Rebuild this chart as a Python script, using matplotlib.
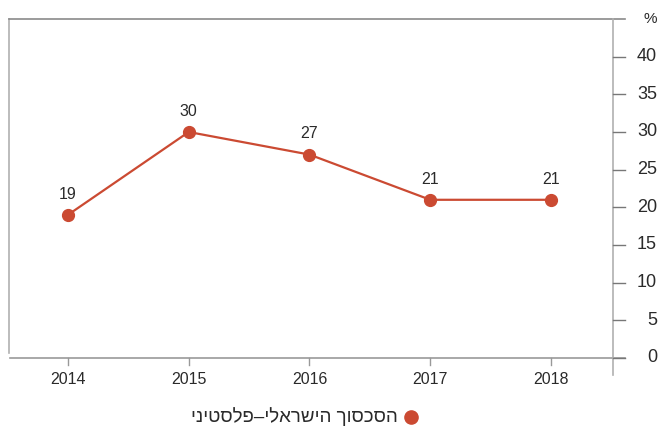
import matplotlib.pyplot as plt
import matplotlib.transforms as mtransforms

plt.rcParams['font.family'] = ['Liberation Sans', 'DejaVu Sans']

years = [2014, 2015, 2016, 2017, 2018]
values = [19, 30, 27, 21, 21]
yticks = [0, 5, 10, 15, 20, 25, 30, 35, 40]
series_name = 'הסכסוך הישראלי–פלסטיני'

line_color = '#cb4a32'
text_color = '#2a2a2a'
axis_color = '#b0b0b0'

fig = plt.figure(figsize=(6.58, 4.28), dpi=100)
ax = fig.add_axes([0.0144, 0.1636, 0.9172, 0.792])
ax.set_xlim(2013.516, 2018.513)
ax.set_ylim(0, 45)

for s in ax.spines.values():
    s.set_visible(False)
ax.set_yticks([])
ax.set_xticks([])

# frame lines (in axes coords, allowed to overhang)
ext = 12 / (0.9172 * 658)
ax.plot([0, 0], [0.015, 1], color=axis_color, lw=1.2, transform=ax.transAxes, clip_on=False)
ax.plot([0, 1 + ext], [1, 1], color='#8a8a8a', lw=1.2, transform=ax.transAxes, clip_on=False)
ax.plot([0.001, 1 + ext], [0, 0], color='#9a9a9a', lw=1.2, transform=ax.transAxes, clip_on=False)
ax.plot([1, 1], [-17 / (0.792 * 428), 1], color=axis_color, lw=1.2, transform=ax.transAxes, clip_on=False)

# y ticks and labels on the right
ytrans = mtransforms.blended_transform_factory(ax.transAxes, ax.transData)
for v in yticks:
    ax.plot([1, 1 + ext], [v, v], color='#777777', lw=1.0, transform=ytrans, clip_on=False)
    ax.text(1 + 44 / (0.9172 * 658), v, str(v), transform=ytrans, ha='right', va='center',
            fontsize=13, color=text_color)
ax.text(1 + 44 / (0.9172 * 658), 45, '%', transform=ytrans, ha='right', va='center',
        fontsize=11, color=text_color)

# x ticks and labels
xtrans = mtransforms.blended_transform_factory(ax.transData, ax.transAxes)
tick_len = 7 / (0.792 * 428)
for yr in years:
    ax.plot([yr, yr], [0, -tick_len], color='#999999', lw=1.0, transform=xtrans, clip_on=False)
    ax.text(yr, -22 / (0.792 * 428), str(yr), transform=xtrans, ha='center', va='center',
            fontsize=11.5, color=text_color)

ax.plot(years, values, color=line_color, lw=1.6, marker='o', markersize=8.5,
        clip_on=False, zorder=3)
for x, v in zip(years, values):
    ax.annotate(str(v), (x, v), xytext=(0, 9.5), textcoords='offset points',
                ha='center', va='bottom', fontsize=11.5, color=text_color)

# legend (Hebrew written in visual order)
fig.lines.append(plt.Line2D([411 / 658], [1 - 417 / 428], marker='o', markersize=9.5,
                            color=line_color, transform=fig.transFigure))
fig.text(398 / 658, 1 - 417 / 428, series_name[::-1], ha='right', va='center',
         fontsize=13.5, color=text_color)

plt.savefig('out.png', dpi=100)
